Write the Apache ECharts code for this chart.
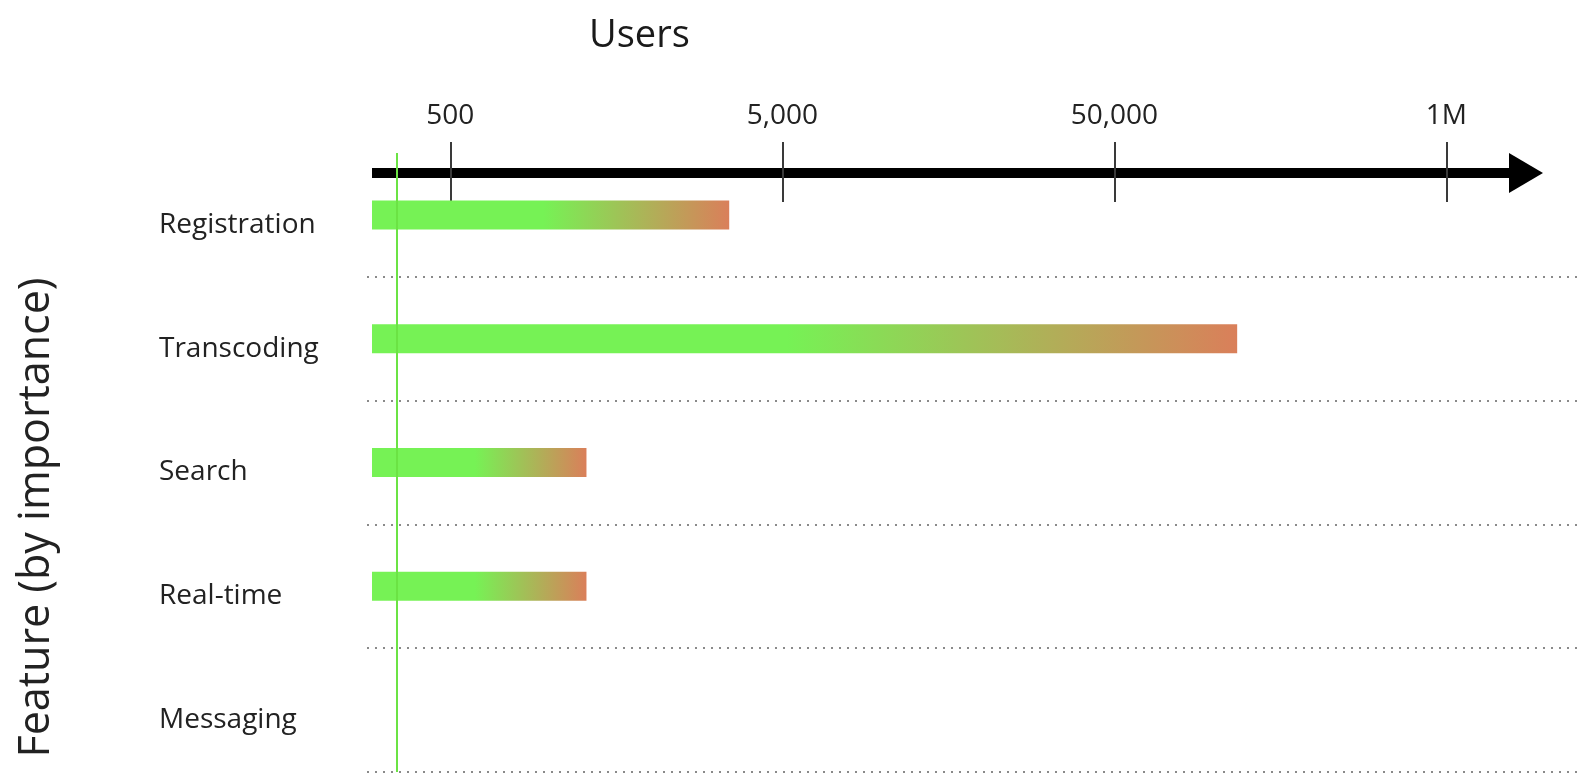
<!DOCTYPE html>
<html>
<head>
<meta charset="utf-8">
<script src="https://cdn.jsdelivr.net/npm/echarts@6/dist/echarts.min.js"></script>
<style>
  html, body { margin: 0; padding: 0; background: #ffffff; }
  #chart { width: 1581px; height: 777px; }
</style>
</head>
<body>
<div id="chart"></div>
<script>
// ---- data ----
const categories = ['Registration', 'Transcoding', 'Search', 'Real-time', 'Messaging'];
// bar end positions on the tier axis (0 = 500, 1 = 5,000, 2 = 50,000, 3 = 1M users)
const barEnds = [0.84, 2.37, 0.41, 0.41, null];
const tickValues = [0, 1, 2, 3];
const tickLabels = ['500', '5,000', '50,000', '1M'];
const currentLevel = -0.16;
const axisMin = -0.236;
const axisMax = 3.24;

const FONT = 'Open Sans';
const chart = echarts.init(document.getElementById('chart'), null, { renderer: 'canvas' });

const barGradient = () => new echarts.graphic.LinearGradient(0, 0, 1, 0, [
  { offset: 0, color: '#76f255' },
  { offset: 0.48, color: '#76f255' },
  { offset: 1, color: '#da7f5a' }
]);

const option = {
  animation: false,
  backgroundColor: '#ffffff',
  textStyle: { fontFamily: FONT },
  title: {
    text: 'Users',
    left: 584,
    top: 12,
    textStyle: { fontFamily: FONT, fontSize: 38, fontWeight: 'normal', color: '#1a1a1a' }
  },
  grid: [
    { left: 372, right: 55, top: 153, bottom: 5, outerBoundsMode: 'none' },
    { left: 367, right: 0, top: 153, bottom: 5, outerBoundsMode: 'none' }
  ],
  xAxis: [
    {
      gridIndex: 0, type: 'value', position: 'top', min: axisMin, max: axisMax, offset: -20,
      axisLine: { show: true, symbol: ['none', 'triangle'], symbolSize: [40, 34],
        lineStyle: { color: '#000000', width: 10, cap: 'butt' } },
      axisTick: { show: true, customValues: tickValues, length: 31,
        lineStyle: { color: '#3a3a3a', width: 2 } },
      axisLabel: { show: true, customValues: tickValues, margin: 43,
        formatter: (v) => tickLabels[Math.round(v)],
        fontFamily: FONT, fontSize: 28, color: '#222222' },
      splitLine: { show: false }
    },
    {
      gridIndex: 0, type: 'value', position: 'top', min: axisMin, max: axisMax, offset: -20,
      axisLine: { show: false },
      axisTick: { show: true, inside: true, customValues: tickValues, length: 29,
        lineStyle: { color: '#3a3a3a', width: 2 } },
      axisLabel: { show: false },
      splitLine: { show: false }
    },
    { gridIndex: 1, type: 'value', show: false, min: 0, max: 1 }
  ],
  yAxis: [
    {
      gridIndex: 0, type: 'category', data: categories, inverse: true,
      axisLine: { show: false }, axisTick: { show: false },
      axisLabel: { show: true, interval: 0, align: 'left', verticalAlign: 'top', lineHeight: 20, margin: 213,
        fontFamily: FONT, fontSize: 28, color: '#222222' },
      splitLine: { show: false },
      name: 'Feature (by importance)', nameLocation: 'middle', nameRotate: 90, nameGap: 314,
      nameTextStyle: { fontFamily: FONT, fontSize: 43, color: '#222222', padding: [0, 110, 0, 0] }
    },
    {
      gridIndex: 1, type: 'category', data: categories, inverse: true,
      axisLine: { show: false }, axisTick: { show: false }, axisLabel: { show: false },
      splitLine: { show: true, showMinLine: false,
        lineStyle: { color: '#8a8a8a', width: 2, type: [2, 6] } }
    }
  ],
  series: [
    {
      type: 'custom',
      xAxisIndex: 0, yAxisIndex: 0,
      silent: true,
      encode: { x: 0, y: 1 },
      data: barEnds.map((v, i) => [v, i]).filter(d => d[0] != null),
      renderItem: (params, api) => {
        const cat = api.value(1);
        const p0 = api.coord([axisMin, cat]);
        const p1 = api.coord([api.value(0), cat]);
        const h = 29;
        return {
          type: 'rect',
          shape: { x: p0[0], y: p0[1] - h / 2, width: p1[0] - p0[0], height: h },
          style: { fill: barGradient() }
        };
      },
      markLine: {
        silent: true,
        symbol: ['none', 'none'],
        label: { show: false },
        lineStyle: { color: '#6be344', width: 2, type: 'solid' },
        emphasis: { disabled: true },
        data: [{ xAxis: currentLevel }]
      }
    }
  ]
};

chart.setOption(option);
</script>
</body>
</html>
